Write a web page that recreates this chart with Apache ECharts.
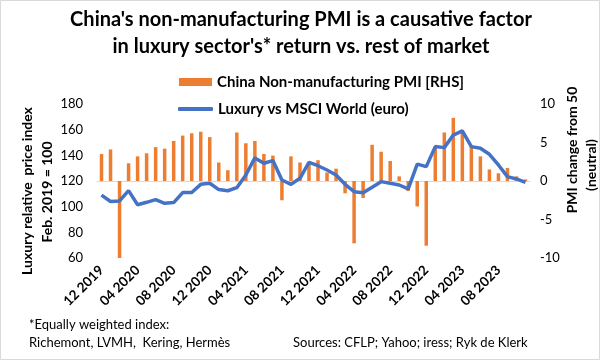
<!DOCTYPE html>
<html>
<head>
<meta charset="utf-8">
<script src="https://cdn.jsdelivr.net/npm/echarts@6/dist/echarts.min.js"></script>
<style>
html,body{margin:0;padding:0;background:#fff;}
#c{width:601px;height:361px;}
</style>
</head>
<body>
<div id="c"></div>
<script>
// Month categories (Dec 2019 - Nov 2023)
var months = ["12 2019",
  "01 2020","02 2020","03 2020","04 2020","05 2020","06 2020","07 2020","08 2020","09 2020","10 2020","11 2020","12 2020",
  "01 2021","02 2021","03 2021","04 2021","05 2021","06 2021","07 2021","08 2021","09 2021","10 2021","11 2021","12 2021",
  "01 2022","02 2022","03 2022","04 2022","05 2022","06 2022","07 2022","08 2022","09 2022","10 2022","11 2022","12 2022",
  "01 2023","02 2023","03 2023","04 2023","05 2023","06 2023","07 2023","08 2023","09 2023","10 2023","11 2023"];

// China non-manufacturing PMI minus 50 (RHS)
var pmiChange = [3.5,
  4.1,-20.4,2.3,3.2,3.6,4.4,4.2,5.2,5.9,6.2,6.4,5.7,
  2.4,1.4,6.3,4.9,5.2,3.5,3.3,-2.5,3.2,2.4,2.3,2.7,
  1.1,1.6,-1.6,-8.1,-2.2,4.7,3.8,2.6,0.6,-1.3,-3.3,-8.4,
  4.4,6.3,8.2,6.4,4.5,3.2,1.5,1.0,1.7,0.6,0.2];

// Luxury relative price index vs MSCI World (Feb 2019 = 100)
var luxury = [109,
  104,104.5,112.5,101.5,103.4,105.5,102.6,103.2,111,111,117.4,118.2,
  113.3,112.4,114.8,124.7,138,133.8,135.9,120.8,117.4,122.1,134.6,131.9,
  128.6,124.7,117.4,111.7,110.9,115.2,119.5,118.2,116.9,113.8,133.2,131.2,
  146.8,146,155.8,159,146.8,145.5,140.8,132.5,123.4,121.6,119];

var leftTicks = {min:60, max:180, interval:20};
var rightTicks = {min:-10, max:10, interval:5};

var titleLines = ["China's non-manufacturing PMI is a causative factor","in luxury sector's* return vs. rest of market"];
var seriesNames = ["China Non-manufacturing PMI [RHS]","Luxury vs MSCI World (euro)"];

var FONT = "Lato";
var chart = echarts.init(document.getElementById('c'), null, {renderer:'canvas'});
var option = {
  animation:false,
  textStyle:{fontFamily:FONT},
  grid:{left:97, right:71, top:104, bottom:103},
  legend:[
    {data:[{name:seriesNames[0], icon:'rect'}], left:174, top:69.5, itemWidth:33, itemHeight:8,
     textStyle:{fontFamily:FONT, fontSize:15, fontWeight:'bold', color:'#000'}},
    {data:[{name:seriesNames[1], icon:'roundRect', itemStyle:{color:'#4472C4'}}], left:173, top:96.5, itemWidth:35, itemHeight:4,
     textStyle:{fontFamily:FONT, fontSize:15, fontWeight:'bold', color:'#000'}}
  ],
  xAxis:{
    type:'category', data:months, boundaryGap:true,
    axisLine:{show:true, lineStyle:{color:'#d9d9d9', width:1}},
    axisTick:{show:false},
    axisLabel:{interval:3, rotate:45, fontFamily:FONT, fontSize:13.5, fontWeight:'bold', color:'#000', margin:10}
  },
  yAxis:[
    {type:'value', min:leftTicks.min, max:leftTicks.max, interval:leftTicks.interval,
     axisLine:{show:false}, axisTick:{show:false}, splitLine:{show:false},
     axisLabel:{fontFamily:FONT, fontSize:13, color:'#000', margin:14}},
    {type:'value', min:rightTicks.min, max:rightTicks.max, interval:rightTicks.interval,
     axisLine:{show:false}, axisTick:{show:false}, splitLine:{show:false},
     axisLabel:{fontFamily:FONT, fontSize:13, color:'#000', margin:10}}
  ],
  series:[
    {name:seriesNames[0], type:'bar', yAxisIndex:1, data:pmiChange, barWidth:3.5, clip:true,
     itemStyle:{color:'#ED7D31'}, z:2},
    {name:seriesNames[1], type:'line', yAxisIndex:0, data:luxury, symbol:'none', showSymbol:false,
     lineStyle:{color:'#4472C4', width:3.5}, itemStyle:{color:'#4472C4'}, z:3}
  ],
  graphic:[
    {type:'rect', shape:{x:0.5, y:0.5, width:599, height:359}, style:{fill:'none', stroke:'#d9d9d9', lineWidth:1}, z:-1},
    {type:'text', x:301, y:20, style:{text:titleLines[0], font:'bold 20px '+FONT, fill:'#000', textAlign:'center', textVerticalAlign:'middle'}},
    {type:'text', x:301, y:47, style:{text:titleLines[1], font:'bold 20px '+FONT, fill:'#000', textAlign:'center', textVerticalAlign:'middle'}},
    {type:'text', x:27, y:191, rotation:Math.PI/2, style:{text:'Luxury relative  price index', font:'bold 14px '+FONT, fill:'#000', textAlign:'center', textVerticalAlign:'middle'}},
    {type:'text', x:47, y:192, rotation:Math.PI/2, style:{text:'Feb. 2019 = 100', font:'bold 14px '+FONT, fill:'#000', textAlign:'center', textVerticalAlign:'middle'}},
    {type:'text', x:572, y:150, rotation:Math.PI/2, style:{text:'PMI change from 50', font:'bold 14px '+FONT, fill:'#000', textAlign:'center', textVerticalAlign:'middle'}},
    {type:'text', x:591, y:165, rotation:Math.PI/2, style:{text:'(neutral)', font:'bold 14px '+FONT, fill:'#000', textAlign:'center', textVerticalAlign:'middle'}},
    {type:'text', x:29, y:325, style:{text:'*Equally weighted index:', font:'13px '+FONT, fill:'#000', textAlign:'left', textVerticalAlign:'middle'}},
    {type:'text', x:29, y:343, style:{text:'Richemont, LVMH,  Kering, Hermès', font:'13px '+FONT, fill:'#000', textAlign:'left', textVerticalAlign:'middle'}},
    {type:'text', x:293, y:343, style:{text:'Sources: CFLP; Yahoo; iress; Ryk de Klerk', font:'13px '+FONT, fill:'#000', textAlign:'left', textVerticalAlign:'middle'}}
  ]
};
chart.setOption(option);
</script>
</body>
</html>
